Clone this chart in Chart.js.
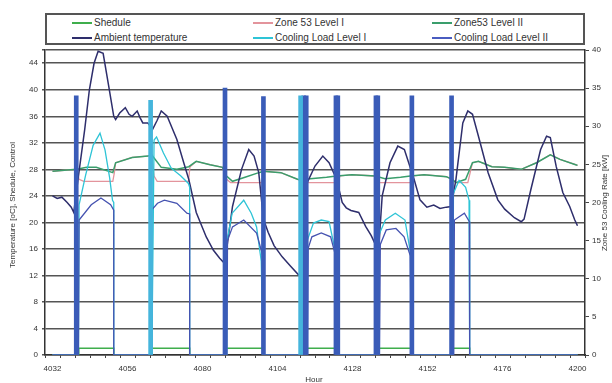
<!DOCTYPE html>
<html>
<head>
<meta charset="utf-8">
<script src="https://cdn.jsdelivr.net/npm/chart.js@4.4.1/dist/chart.umd.min.js"></script>
<style>
  body { margin: 0; background: #fff; }
  #wrap { position: relative; width: 612px; height: 383px; }
  #legendBox {
    position: absolute; left: 45px; top: 13px; width: 540px; height: 32px;
    box-sizing: border-box; border: 2px solid #555; background: #fff;
  }
  .item { position: absolute; font: 10px "Liberation Sans", Arial, sans-serif; color: #333; white-space: nowrap; }
  .item i { display: inline-block; width: 20px; height: 2px; vertical-align: middle; margin-right: 2px; }
</style>
</head>
<body>
<div id="wrap">
  <canvas id="chart" width="612" height="383"></canvas>
  <div id="legendBox"></div>
</div>
<script>
// ---------- DATA ----------
// x values are simulation hours, temperatures in degC (left axis), loads in kW (right axis)
const xTickLabels = [4032, 4056, 4080, 4104, 4128, 4152, 4176, 4200];
const leftTicks = [0, 4, 8, 12, 16, 20, 24, 28, 32, 36, 40, 44];
const rightTicks = [0, 5, 10, 15, 20, 25, 30, 35, 40];

const legendNames = ["Shedule", "Zone 53 Level I", "Zone53 Level II",
  "Ambient temperature", "Cooling Load Level I", "Cooling Load Level II"];
const legendColors = ["#3fae4c", "#e3949c", "#3a9e6c", "#2e2e6c", "#2ec4d6", "#4a5cc0"];

const shedule = [[4032,0],[4040.4,0],[4040.4,1],[4051.6,1],[4051.6,0],[4063.7,0],[4063.7,1],[4075.9,1],
  [4075.9,0],[4087.4,0],[4087.4,1],[4099.5,1],[4099.5,0],[4111.7,0],[4111.7,1],[4123.5,1],[4123.5,0],
  [4135.9,0],[4135.9,1],[4147.1,1],[4147.1,0],[4159.9,0],[4159.9,1],[4165.5,1],[4165.5,0],[4200,0]];

const zoneLevel1 = [[4032,27.7],[4036.7,27.9],[4039.8,28],[4040.5,26.5],[4042,26.2],[4051.3,26.2],
  [4051.8,27.5],[4052.2,29],[4057.5,29.8],[4062.5,30],[4063.7,30.2],[4064.5,27],[4065.5,26.2],
  [4075.5,26.2],[4076,28.4],[4078,29.2],[4082.4,28.7],[4086.4,28.3],[4087.7,26.5],[4089,26],
  [4099,26],[4099.5,27.7],[4105.1,27.5],[4110.4,26.5],[4111.7,26.2],[4112.5,26],[4123.3,26],
  [4124,27],[4127.8,27.2],[4135.3,27],[4136.5,26],[4147,26],[4147.5,27],[4150.9,27.2],[4158,26.9],
  [4159.9,26.5],[4161.1,26],[4164.9,26],[4166.4,29],[4168.3,29.2],[4172.6,28.4],[4176.7,28.3],
  [4182,28],[4186.9,29],[4191.3,30.2],[4194.4,29.5],[4199.4,28.7],[4200,28.6]];

const zoneLevel2 = [[4032,27.7],[4036.7,27.9],[4039.8,28],[4042.9,28.3],[4046,28.3],[4051.3,27.5],
  [4052.2,29],[4057.5,29.8],[4062.5,30],[4063.7,30.2],[4066.8,28.3],[4071.8,28],[4075.6,28.4],
  [4078,29.2],[4082.4,28.7],[4086.4,28.3],[4087.7,27],[4089.6,26.2],[4093.6,26.8],[4098,27.5],
  [4099.5,27.7],[4105.1,27.5],[4110.4,26.5],[4111.7,26.4],[4114.5,26.6],[4119.7,26.8],[4122.9,27],
  [4127.8,27.2],[4135.3,27],[4138.4,26.6],[4143.4,26.8],[4146.5,27],[4150.9,27.2],[4158,26.9],
  [4159.9,26.5],[4161.1,26],[4164.2,26.5],[4166.4,29],[4168.3,29.2],[4172.6,28.4],[4176.7,28.3],
  [4182,28],[4186.9,29],[4191.3,30.2],[4194.4,29.5],[4199.4,28.7],[4200,28.6]];

const ambient = [[4032,24],[4033.5,23.6],[4035,23.8],[4036.7,23],[4038,22.3],[4038.8,21.5],[4040.7,28.4],
  [4042.3,34],[4043.8,40],[4045.3,44],[4046.6,45.8],[4048.2,45.5],[4050,40.5],[4051.6,36],[4052.2,35.5],
  [4053.5,36.5],[4055.3,37.3],[4056.5,36.3],[4057.5,36],[4059.1,36.8],[4060,35.8],[4060.9,35],[4062.5,35],
  [4064,34],[4065.5,35.4],[4066.8,36.8],[4068.7,36],[4070.2,34.3],[4071.8,32.5],[4074,29],[4075.6,26.5],
  [4078,21.5],[4081.2,17.8],[4083.5,15.8],[4085.5,14.6],[4087.1,13.8],[4089.6,22.4],[4092.5,28],
  [4094.8,31],[4096.5,30],[4098,27.5],[4099.5,20.5],[4101,18.5],[4102.9,16.5],[4105.5,14.8],
  [4108.2,13.4],[4110.5,12.2],[4111.5,12],[4113.5,26],[4116,28.5],[4118.5,30],[4120.5,29],[4122.9,26.5],
  [4124.7,23],[4126,22.2],[4127.5,21.8],[4130,21.5],[4132.2,19.4],[4134,18],[4135.5,16.5],[4136.3,15.5],
  [4137.5,24],[4140,29],[4142.5,31.5],[4144.6,31],[4147.7,26.5],[4149.6,23.4],[4151.8,22.3],[4154,22.6],
  [4156,22.1],[4158,22.3],[4159.6,22.4],[4161.1,26.5],[4163.3,35],[4164.9,36.8],[4166.4,36.3],
  [4168.3,33],[4171.4,27.5],[4174.5,23.4],[4176.7,22],[4179.8,20.7],[4182,20.1],[4182.9,20.5],
  [4185.1,25],[4188.2,31],[4190.1,33],[4191.3,32.8],[4193.2,28.4],[4195.3,24.5],[4197.5,22.4],
  [4199.1,20.4],[4200,19.5]];

const coolingLoad1 = [[4032,0],[4040.3,0],[4040.5,19.7],[4042.6,23.6],[4045,27.5],[4047.2,29.1],
  [4048.8,26.9],[4050.3,23.2],[4051.2,20.3],[4051.6,20],[4051.6,0],[4063.8,0],[4064.5,28.2],
  [4065.3,28.6],[4067.5,26.5],[4070,24.5],[4073,23.5],[4075.5,22.5],[4075.9,22],[4075.9,0],
  [4087.6,0],[4087.8,14.9],[4089.5,18.6],[4093.2,20.3],[4095.6,18.6],[4097.3,16.8],[4098.8,12.3],
  [4099.4,0],[4111.8,0],[4112,13.2],[4113.5,15],[4115.5,17.3],[4118,17.7],[4120.5,17.5],[4122.3,14],
  [4122.8,12.5],[4122.8,0],[4136,0],[4136.2,15.5],[4138.5,17.7],[4141.7,18.6],[4144.8,17.7],
  [4146.3,14],[4146.8,13],[4146.8,0],[4160.1,0],[4160.3,21.2],[4162.1,22.9],[4164.2,22],[4165.3,20.3],
  [4165.5,0],[4200,0]];

const coolingLoad2 = [[4032,0],[4040.3,0],[4040.5,17.7],[4044.4,19.7],[4047.5,20.6],[4050.6,19.7],
  [4051.6,19],[4051.6,0],[4063.7,0],[4063.7,19],[4065.6,19.9],[4067.8,20.3],[4071.8,19.9],[4075,18.6],
  [4075.9,18.5],[4075.9,0],[4087.8,0],[4088,15],[4089.6,16.8],[4093.2,17.7],[4097.3,16],[4099.3,13],
  [4099.5,0],[4113.5,0],[4113.8,14],[4115,15.5],[4118,16],[4121,15.5],[4122.6,13],[4122.8,0],
  [4136.6,0],[4136.9,14.5],[4138.8,16.4],[4141.9,16.6],[4144.5,15.5],[4146.5,13],[4146.8,0],
  [4160.4,0],[4160.6,17.7],[4163.8,18.6],[4165.4,17.5],[4165.5,0],[4200,0]];

// pull-down spikes at the start / end of the occupied periods [hour, kW]
const spikesLevel2 = [[4039.6,34],[4087.2,35],[4099.5,33.9],[4112.4,34],[4113.2,34],[4122.7,34],
  [4123.3,34],[4135.5,34],[4136.1,34],[4147.0,34],[4159.7,34]];
const spikesLevel1 = [[4063.4,33.4],[4111.4,34]];

// ---------- LEGEND (html, 3 columns x 2 rows) ----------
const legendBox = document.getElementById("legendBox");
const legendCols = [25, 206, 385];
legendNames.forEach((name, i) => {
  const div = document.createElement("div");
  div.className = "item";
  div.style.left = legendCols[i % 3] + "px";
  div.style.top = (i < 3 ? 2 : 17) + "px";
  div.innerHTML = `<i style="background:${legendColors[i]}"></i>${name}`;
  legendBox.appendChild(div);
});

// ---------- CHART ----------
const toXY = arr => arr.map(([x, y]) => ({ x, y }));
const FONT = { family: "'Liberation Sans', Arial, sans-serif", size: 8 };

function lineSet(data, color, width, axis, order) {
  return {
    type: "line", data: toXY(data), borderColor: color, borderWidth: width,
    pointRadius: 0, tension: 0, fill: false, yAxisID: axis, order: order
  };
}

function spikeSet(data, color) {
  return {
    type: "bar", data: toXY(data), backgroundColor: color, barThickness: 4,
    grouped: false, yAxisID: "y1", order: 0
  };
}

// axis titles drawn by hand so the right one reads bottom-to-top like the original
const axisTitles = {
  id: "axisTitles",
  afterDraw(chart) {
    const ctx = chart.ctx;
    ctx.save();
    ctx.fillStyle = "#333";
    ctx.font = "8px 'Liberation Sans', Arial, sans-serif";
    ctx.textAlign = "center";
    ctx.textBaseline = "middle";
    ctx.fillText("Hour", 314, 380);
    ctx.translate(13, 205);
    ctx.rotate(-Math.PI / 2);
    ctx.fillText("Temperature [oC], Shedule, Control", 0, 0);
    ctx.restore();
    ctx.save();
    ctx.fillStyle = "#333";
    ctx.font = "8px 'Liberation Sans', Arial, sans-serif";
    ctx.textAlign = "center";
    ctx.textBaseline = "middle";
    ctx.translate(605, 203);
    ctx.rotate(-Math.PI / 2);
    ctx.fillText("Zone 53 Cooling Rate [kW]", 0, 0);
    ctx.restore();
  }
};

new Chart(document.getElementById("chart"), {
  data: {
    datasets: [
      lineSet(shedule, legendColors[0], 1.5, "y", 6),
      lineSet(zoneLevel1, legendColors[1], 1.3, "y", 5),
      lineSet(zoneLevel2, legendColors[2], 1.5, "y", 4),
      lineSet(ambient, legendColors[3], 1.5, "y", 3),
      lineSet(coolingLoad1, legendColors[4], 1.3, "y1", 2),
      lineSet(coolingLoad2, "#4552b0", 1.3, "y1", 1),
      spikeSet(spikesLevel1, "#45b5dc"),
      spikeSet(spikesLevel2, "#3a5cb8")
    ]
  },
  options: {
    responsive: false,
    animation: false,
    layout: { padding: { top: 50, left: 0, right: 0, bottom: 0 } },
    plugins: { legend: { display: false }, tooltip: { enabled: false } },
    scales: {
      x: {
        type: "linear", min: 4032, max: 4200, z: 1,
        afterBuildTicks: scale => {
          const t = [];
          for (let i = 0; i <= 35; i++) t.push({ value: 4032 + i * 4.8 });
          scale.ticks = t;
        },
        afterFit: scale => { scale.height = 28; },
        grid: { drawOnChartArea: false, tickLength: 3, color: "#444", lineWidth: 1 },
        border: { color: "#333", width: 1.5 },
        ticks: {
          autoSkip: false, maxRotation: 0, padding: 6, color: "#333", font: FONT,
          callback: v => {
            const r = Math.round(v);
            return Math.abs(v - r) < 1e-6 && xTickLabels.includes(r) ? String(r) : "";
          }
        }
      },
      y: {
        position: "left", min: 0, max: 46,
        afterBuildTicks: scale => { scale.ticks = [...leftTicks, 46].map(v => ({ value: v })); },
        afterFit: scale => { scale.width = 45; },
        grid: { color: "#555", lineWidth: 1.6, tickLength: 3 },
        border: { color: "#333", width: 1.5 },
        ticks: { padding: 4, color: "#333", font: FONT, callback: v => (v === 46 ? "" : v) }
      },
      y1: {
        position: "right", min: 0, max: 40,
        afterBuildTicks: scale => { scale.ticks = rightTicks.map(v => ({ value: v })); },
        afterFit: scale => { scale.width = 27; },
        grid: { drawOnChartArea: false, tickLength: 4, color: "#444" },
        border: { color: "#333", width: 1.5 },
        ticks: { padding: 3, color: "#333", font: FONT }
      }
    }
  },
  plugins: [axisTitles]
});
</script>
</body>
</html>
